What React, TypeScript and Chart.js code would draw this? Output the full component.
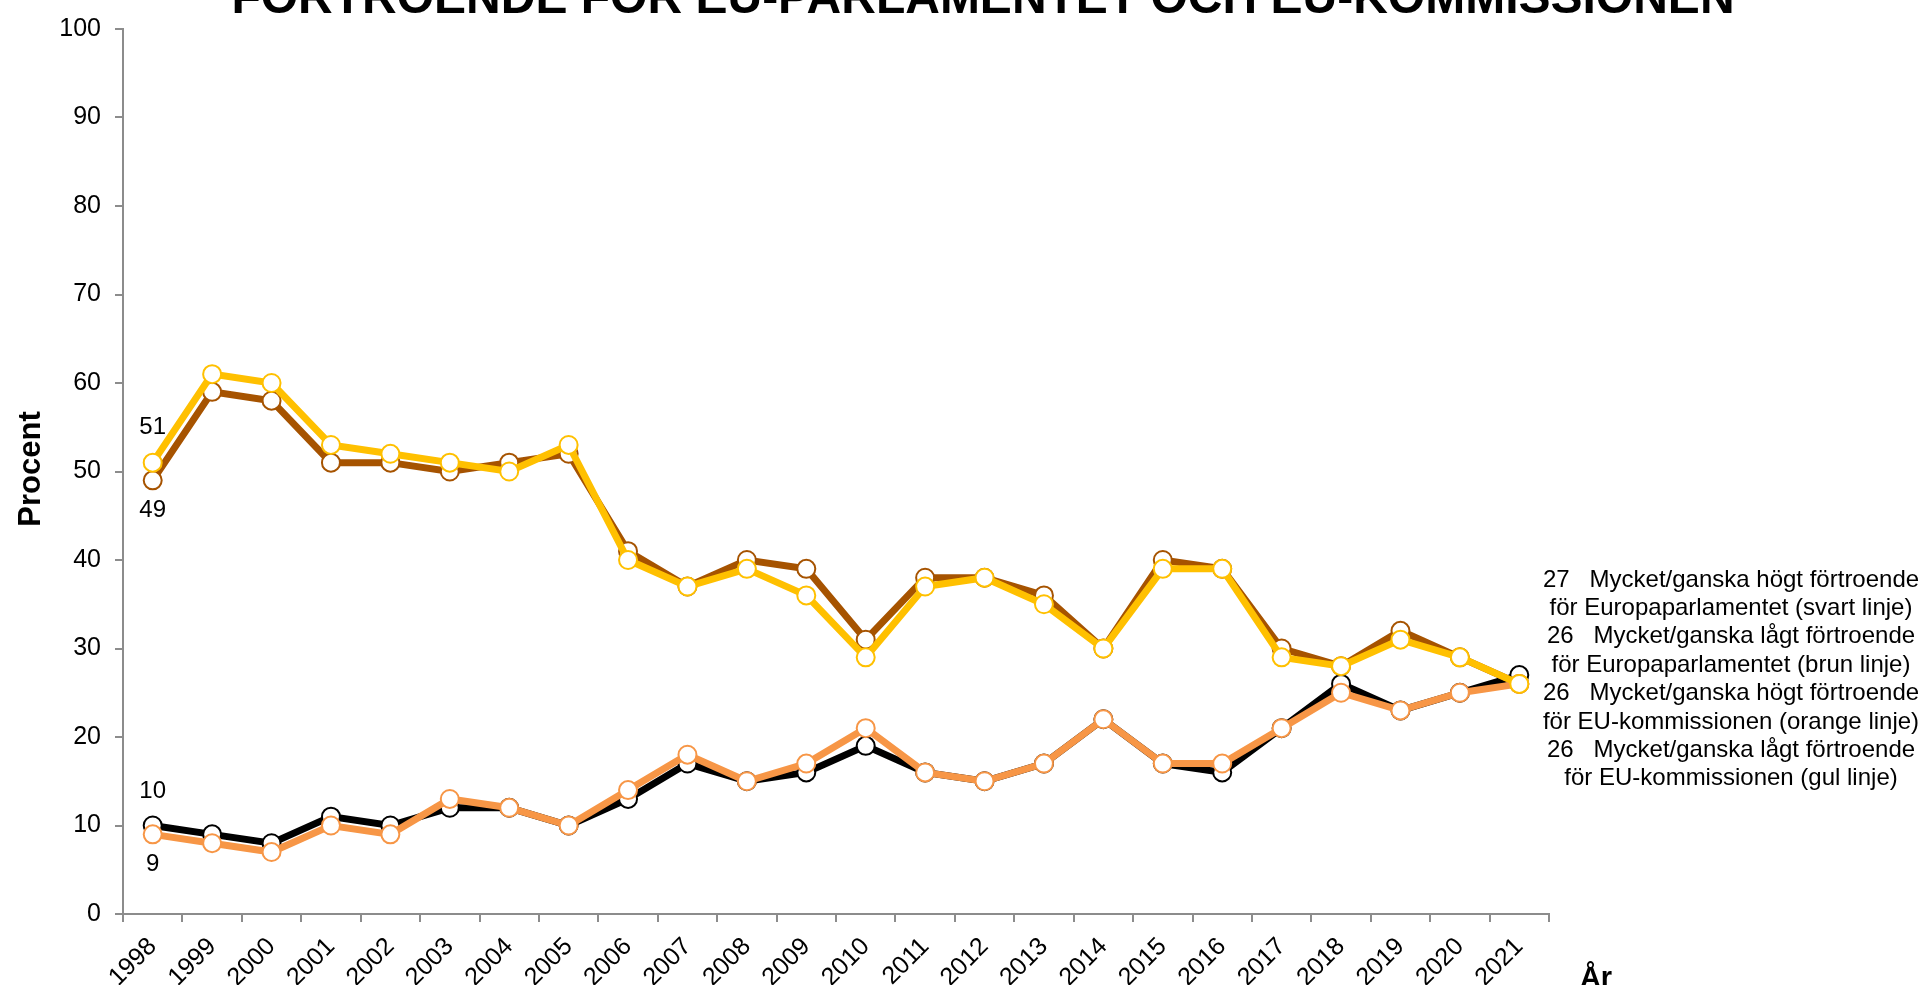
import React, { useEffect, useRef } from "react";
import { Chart, registerables } from "chart.js";

Chart.register(...registerables);

const years = [
  "1998", "1999", "2000", "2001", "2002", "2003", "2004", "2005", "2006", "2007", "2008", "2009",
  "2010", "2011", "2012", "2013", "2014", "2015", "2016", "2017", "2018", "2019", "2020", "2021",
];

// Mycket/ganska högt förtroende för Europaparlamentet (svart linje)
const parlHigh = [10, 9, 8, 11, 10, 12, 12, 10, 13, 17, 15, 16, 19, 16, 15, 17, 22, 17, 16, 21, 26, 23, 25, 27];
// Mycket/ganska lågt förtroende för Europaparlamentet (brun linje)
const parlLow = [49, 59, 58, 51, 51, 50, 51, 52, 41, 37, 40, 39, 31, 38, 38, 36, 30, 40, 39, 30, 28, 32, 29, 26];
// Mycket/ganska högt förtroende för EU-kommissionen (orange linje)
const kommHigh = [9, 8, 7, 10, 9, 13, 12, 10, 14, 18, 15, 17, 21, 16, 15, 17, 22, 17, 17, 21, 25, 23, 25, 26];
// Mycket/ganska lågt förtroende för EU-kommissionen (gul linje)
const kommLow = [51, 61, 60, 53, 52, 51, 50, 53, 40, 37, 39, 36, 29, 37, 38, 35, 30, 39, 39, 29, 28, 31, 29, 26];

const titleText = "FÖRTROENDE FÖR EU-PARLAMENTET OCH EU-KOMMISSIONEN";
const yTitle = "Procent";
const xTitle = "År";
const noteHeads = ["Mycket/ganska högt förtroende", "Mycket/ganska lågt förtroende", "Mycket/ganska högt förtroende", "Mycket/ganska lågt förtroende"];
const noteTails = [
  "för Europaparlamentet (svart linje)",
  "för Europaparlamentet (brun linje)",
  "för EU-kommissionen (orange linje)",
  "för EU-kommissionen (gul linje)",
];

const BLACK = "#000000";
const BROWN = "#A65300";
const ORANGE = "#F79646";
const YELLOW = "#FFC000";
const AXIS = "#8c8c8c";
const FONT = "'Liberation Sans', Arial, Helvetica, sans-serif";

export default function App() {
  const ref = useRef<HTMLCanvasElement>(null);

  useEffect(() => {
    if (!ref.current) return;
    Chart.defaults.font.family = FONT;

    const series = [parlHigh, parlLow, kommHigh, kommLow];

    const textPlugin = {
      id: "extraTexts",
      afterDraw(chart: any) {
        const ctx = chart.ctx as CanvasRenderingContext2D;
        ctx.save();
        ctx.fillStyle = "#000";
        // title (partly cut at top as in reference)
        ctx.font = `bold 48px ${FONT}`;
        ctx.textAlign = "center";
        ctx.textBaseline = "alphabetic";
        ctx.fillText(titleText, 983, 13);

        // y axis title
        ctx.save();
        ctx.translate(40, 469);
        ctx.rotate(-Math.PI / 2);
        ctx.font = `bold 31px ${FONT}`;
        ctx.textAlign = "center";
        ctx.fillText(yTitle, 0, 0);
        ctx.restore();

        // x axis title
        ctx.font = `bold 29px ${FONT}`;
        ctx.textAlign = "center";
        ctx.fillText(xTitle, 1596, 987);

        // right-hand note block
        ctx.font = `24px ${FONT}`;
        ctx.textBaseline = "middle";
        for (let i = 0; i < 4; i++) {
          const last = series[i][series[i].length - 1];
          ctx.fillText(`${last}   ${noteHeads[i]}`, 1731, 580 + i * 2 * 28.4);
          ctx.fillText(noteTails[i], 1731, 580 + (i * 2 + 1) * 28.4);
        }

        // first-point labels
        ctx.font = `24px ${FONT}`;
        const lbl = (dsIndex: number, dy: number) => {
          const pt = chart.getDatasetMeta(dsIndex).data[0];
          const v = chart.data.datasets[dsIndex].data[0];
          ctx.fillText(String(v), pt.x, pt.y + dy);
        };
        lbl(0, -34); // black 10 above
        lbl(2, 30); // orange 9 below
        lbl(3, -35); // yellow 51 above
        lbl(1, 30); // brown 49 below
        ctx.restore();
      },
    };

    const mk = (label: string, data: number[], color: string, order: number) => ({
      label,
      data,
      borderColor: color,
      backgroundColor: color,
      borderWidth: 7,
      pointRadius: 9,
      pointHoverRadius: 9,
      pointBorderWidth: 2,
      pointBackgroundColor: "#ffffff",
      pointBorderColor: color,
      tension: 0,
      order,
    });

    const chart = new Chart(ref.current, {
      type: "line",
      data: {
        labels: years,
        datasets: [
          mk(noteTails[0], parlHigh, BLACK, 4),
          mk(noteTails[1], parlLow, BROWN, 3),
          mk(noteTails[2], kommHigh, ORANGE, 2),
          mk(noteTails[3], kommLow, YELLOW, 1),
        ],
      },
      options: {
        animation: false,
        responsive: false,
        devicePixelRatio: 1,
        layout: { padding: { left: 0, right: 375, top: 24, bottom: 0 } },
        plugins: {
          legend: { display: false },
          tooltip: { enabled: false },
          title: { display: false },
        },
        scales: {
          x: {
            type: "category",
            offset: true,
            grid: {
              display: true,
              drawOnChartArea: false,
              drawTicks: true,
              tickLength: 8,
              color: AXIS,
              lineWidth: 2,
              offset: true,
            },
            border: { display: true, color: AXIS, width: 2 },
            ticks: {
              autoSkip: false,
              maxRotation: 45,
              minRotation: 45,
              padding: 10,
              color: "#000",
              font: { size: 25, family: FONT },
            },
            afterFit(scale: any) {
              scale.height = 71;
            },
          },
          y: {
            min: 0,
            max: 100,
            grid: {
              display: true,
              drawOnChartArea: false,
              drawTicks: true,
              tickLength: 8,
              color: AXIS,
              lineWidth: 2,
            },
            border: { display: true, color: AXIS, width: 2 },
            ticks: {
              stepSize: 10,
              padding: 14,
              color: "#000",
              font: { size: 25, family: FONT },
            },
            afterFit(scale: any) {
              scale.width = 123;
            },
          },
        },
      },
      plugins: [textPlugin],
    });

    return () => chart.destroy();
  }, []);

  return (
    <div style={{ position: "fixed", left: 0, top: 0, width: 1924, height: 985, background: "#fff" }}>
      <canvas ref={ref} width={1924} height={985} style={{ width: 1924, height: 985, display: "block" }} />
    </div>
  );
}
